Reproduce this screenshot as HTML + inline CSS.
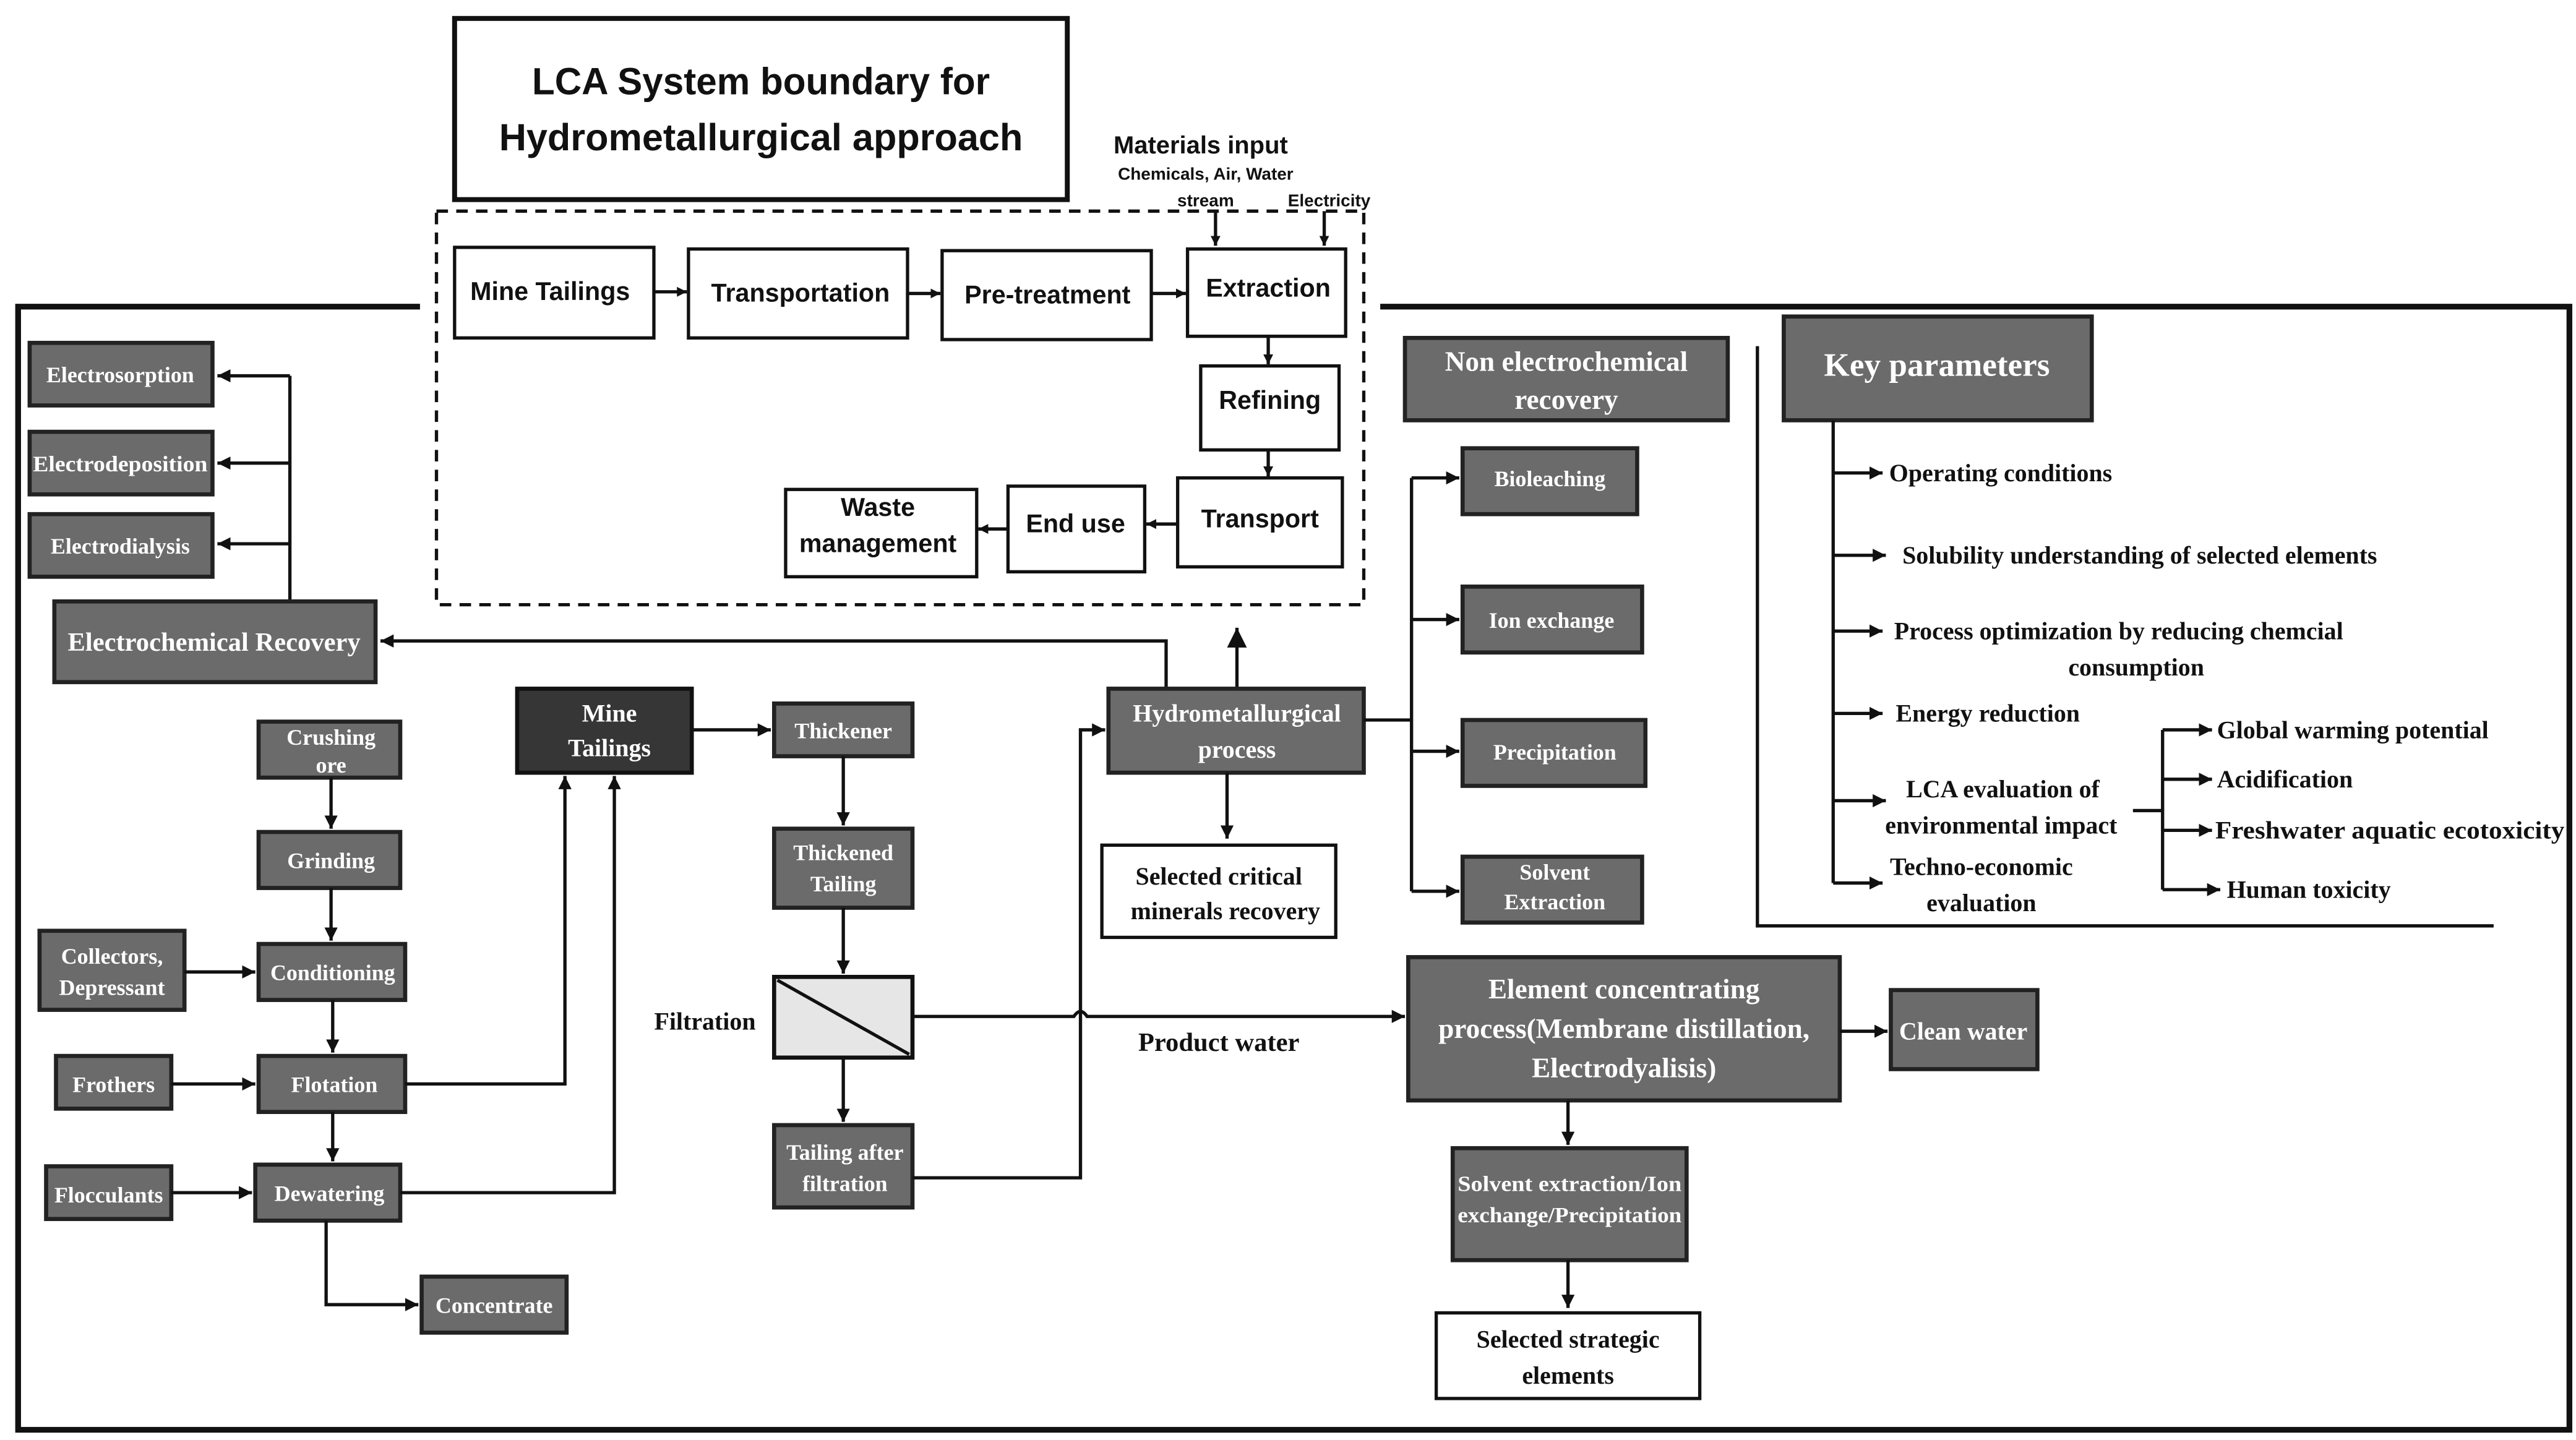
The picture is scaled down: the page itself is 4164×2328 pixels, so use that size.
<!DOCTYPE html>
<html><head><meta charset="utf-8"><style>
html,body{margin:0;padding:0;background:#fff;}
svg{display:block;}
.g{fill:#6b6b6b;stroke:#222;stroke-width:2.5;}
.d{fill:#363636;stroke:#111;stroke-width:2.5;}
.w{fill:#fff;stroke:#111;stroke-width:2;}
.tw{font-family:"Liberation Serif",serif;font-weight:bold;fill:#fff;text-anchor:middle;}
.tb{font-family:"Liberation Serif",serif;font-weight:bold;fill:#111;}
.ts{font-family:"Liberation Sans",sans-serif;font-weight:bold;fill:#111;text-anchor:middle;}
.l{fill:none;stroke:#111;stroke-width:2;}
</style></head><body>
<svg width="4164" height="2328" viewBox="0 0 1564 874" xmlns="http://www.w3.org/2000/svg">
<defs>
<marker id="a" markerUnits="userSpaceOnUse" markerWidth="10" markerHeight="10" refX="8" refY="4" orient="auto"><path d="M0,0 L8,4 L0,8 z" fill="#111"/></marker>
<marker id="s" markerUnits="userSpaceOnUse" markerWidth="8" markerHeight="8" refX="6" refY="3" orient="auto"><path d="M0,0 L6,3 L0,6 z" fill="#111"/></marker>
<marker id="b" markerUnits="userSpaceOnUse" markerWidth="14" markerHeight="16" refX="12" refY="6" orient="auto"><path d="M0,0 L12,6 L0,12 z" fill="#111"/></marker>
</defs>
<rect width="1564" height="874" fill="#fff"/>

<!-- title -->
<rect x="276" y="11" width="372" height="110" fill="#fff" stroke="#111" stroke-width="3"/>
<text x="462" y="57" class="ts" font-size="23" font-weight="normal" textLength="278" lengthAdjust="spacingAndGlyphs">LCA System boundary for</text>
<text x="462" y="91" class="ts" font-size="23" textLength="318" lengthAdjust="spacingAndGlyphs">Hydrometallurgical approach</text>

<text x="729" y="93" class="ts" font-size="15">Materials input</text>
<text x="732" y="109" class="ts" font-size="10.5">Chemicals, Air, Water</text>
<text x="732" y="125" class="ts" font-size="10.5">stream</text>
<text x="807" y="125" class="ts" font-size="10.5">Electricity</text>
<line x1="738" y1="128" x2="738" y2="149" class="l" stroke-width="1.3" marker-end="url(#s)"/>
<line x1="804" y1="128" x2="804" y2="149" class="l" stroke-width="1.3" marker-end="url(#s)"/>

<!-- dashed boundary -->
<rect x="265" y="128" width="563" height="239" fill="none" stroke="#111" stroke-width="2" stroke-dasharray="7,5"/>

<!-- outer frame -->
<path d="M255,186 L11,186 L11,868 L1560,868 L1560,186 L838,186" fill="none" stroke="#111" stroke-width="3.5"/>

<!-- top white boxes -->
<rect x="276" y="150" width="121" height="55" class="w"/><text x="334" y="182" class="ts" font-size="15.5">Mine Tailings</text>
<rect x="418" y="151" width="133" height="54" class="w"/><text x="486" y="183" class="ts" font-size="15.5">Transportation</text>
<rect x="572" y="152" width="127" height="54" class="w"/><text x="636" y="184" class="ts" font-size="15.5">Pre-treatment</text>
<rect x="721" y="151" width="96" height="53" class="w"/><text x="770" y="180" class="ts" font-size="15.5">Extraction</text>
<rect x="729" y="222" width="84" height="51" class="w"/><text x="771" y="248" class="ts" font-size="15.5">Refining</text>
<rect x="715" y="290" width="100" height="54" class="w"/><text x="765" y="320" class="ts" font-size="15.5">Transport</text>
<rect x="612" y="295" width="83" height="52" class="w"/><text x="653" y="323" class="ts" font-size="15.5">End use</text>
<rect x="477" y="297" width="116" height="53" class="w"/><text x="533" y="313" class="ts" font-size="15.5">Waste</text><text x="533" y="335" class="ts" font-size="15.5">management</text>
<line x1="397" y1="177" x2="417" y2="177" class="l" stroke-width="1.5" marker-end="url(#s)"/>
<line x1="551" y1="178" x2="571" y2="178" class="l" stroke-width="1.5" marker-end="url(#s)"/>
<line x1="699" y1="178" x2="720" y2="178" class="l" stroke-width="1.5" marker-end="url(#s)"/>
<line x1="770" y1="204" x2="770" y2="221" class="l" stroke-width="1.5" marker-end="url(#s)"/>
<line x1="770" y1="273" x2="770" y2="289" class="l" stroke-width="1.5" marker-end="url(#s)"/>
<line x1="715" y1="318" x2="696" y2="318" class="l" stroke-width="1.5" marker-end="url(#s)"/>
<line x1="612" y1="321" x2="594" y2="321" class="l" stroke-width="1.5" marker-end="url(#s)"/>

<!-- electrochemical -->
<rect x="18" y="208" width="111" height="38" class="g"/><text x="73" y="232" class="tw" font-size="13.5">Electrosorption</text>
<rect x="18" y="262" width="111" height="38" class="g"/><text x="73" y="286" class="tw" font-size="13.5" textLength="106" lengthAdjust="spacingAndGlyphs">Electrodeposition</text>
<rect x="18" y="312" width="111" height="38" class="g"/><text x="73" y="336" class="tw" font-size="13.5">Electrodialysis</text>
<path d="M176,365 L176,228" class="l"/>
<line x1="176" y1="228" x2="132" y2="228" class="l" marker-end="url(#a)"/>
<line x1="176" y1="281" x2="132" y2="281" class="l" marker-end="url(#a)"/>
<line x1="176" y1="330" x2="132" y2="330" class="l" marker-end="url(#a)"/>
<rect x="33" y="365" width="195" height="49" class="g"/><text x="130" y="395" class="tw" font-size="16">Electrochemical Recovery</text>
<path d="M708,418 L708,389 L231,389" class="l" stroke-width="2.5" marker-end="url(#a)"/>
<line x1="751" y1="418" x2="751" y2="381" class="l" stroke-width="3.5" marker-end="url(#b)"/>

<!-- mine tailings chain -->
<rect x="314" y="418" width="106" height="51" class="d"/><text x="370" y="438" class="tw" font-size="15">Mine</text><text x="370" y="459" class="tw" font-size="15">Tailings</text>
<line x1="420" y1="443" x2="468" y2="443" class="l" stroke-width="2.5" marker-end="url(#a)"/>
<rect x="470" y="427" width="84" height="32" class="g"/><text x="512" y="448" class="tw" font-size="13.5">Thickener</text>
<line x1="512" y1="459" x2="512" y2="501" class="l" marker-end="url(#a)"/>
<rect x="470" y="503" width="84" height="48" class="g"/><text x="512" y="522" class="tw" font-size="13.5">Thickened</text><text x="512" y="541" class="tw" font-size="13.5">Tailing</text>
<line x1="512" y1="551" x2="512" y2="591" class="l" marker-end="url(#a)"/>
<rect x="470" y="593" width="84" height="49" fill="#e6e6e6" stroke="#111" stroke-width="2.5"/>
<line x1="472" y1="595" x2="552" y2="640" class="l" stroke-width="2.5"/>
<text x="428" y="625" class="tb" font-size="15" text-anchor="middle">Filtration</text>
<line x1="512" y1="642" x2="512" y2="681" class="l" marker-end="url(#a)"/>
<rect x="470" y="683" width="84" height="50" class="g"/><text x="513" y="704" class="tw" font-size="13.5">Tailing after</text><text x="513" y="723" class="tw" font-size="13.5">filtration</text>
<path d="M554,715 L656,715 L656,443 L671,443" class="l" marker-end="url(#a)"/>
<path d="M554,617 L652,617 Q656,611 660,617 L853,617" class="l" marker-end="url(#a)"/>
<text x="740" y="638" class="tb" font-size="16" text-anchor="middle">Product water</text>

<!-- hydromet -->
<rect x="673" y="418" width="155" height="51" class="g"/><text x="751" y="438" class="tw" font-size="15">Hydrometallurgical</text><text x="751" y="460" class="tw" font-size="15">process</text>
<line x1="745" y1="469" x2="745" y2="509" class="l" marker-end="url(#a)"/>
<rect x="669" y="513" width="142" height="56" class="w"/><text x="740" y="537" class="tb" font-size="15" text-anchor="middle">Selected critical</text><text x="744" y="558" class="tb" font-size="15" text-anchor="middle">minerals recovery</text>
<path d="M828,437 L857,437" class="l"/>
<path d="M857,290 L857,541" class="l"/>
<line x1="857" y1="290" x2="886" y2="290" class="l" marker-end="url(#a)"/>
<line x1="857" y1="376" x2="886" y2="376" class="l" marker-end="url(#a)"/>
<line x1="857" y1="456" x2="886" y2="456" class="l" marker-end="url(#a)"/>
<line x1="857" y1="541" x2="886" y2="541" class="l" marker-end="url(#a)"/>
<rect x="853" y="205" width="196" height="50" class="g"/><text x="951" y="225" class="tw" font-size="17">Non electrochemical</text><text x="951" y="248" class="tw" font-size="17">recovery</text>
<rect x="888" y="272" width="106" height="40" class="g"/><text x="941" y="295" class="tw" font-size="13.5">Bioleaching</text>
<rect x="888" y="356" width="109" height="40" class="g"/><text x="942" y="381" class="tw" font-size="13.5">Ion exchange</text>
<rect x="888" y="437" width="111" height="40" class="g"/><text x="944" y="461" class="tw" font-size="13.5">Precipitation</text>
<rect x="888" y="520" width="109" height="40" class="g"/><text x="944" y="534" class="tw" font-size="13.5">Solvent</text><text x="944" y="552" class="tw" font-size="13.5">Extraction</text>

<!-- key params -->
<path d="M1067,210 L1067,562 L1514,562" class="l" stroke-width="2.5"/>
<rect x="1083" y="192" width="187" height="63" class="g"/><text x="1176" y="228" class="tw" font-size="20">Key parameters</text>
<path d="M1113,255 L1113,536" class="l"/>
<line x1="1113" y1="287" x2="1143" y2="287" class="l" marker-end="url(#a)"/>
<line x1="1113" y1="337" x2="1145" y2="337" class="l" marker-end="url(#a)"/>
<line x1="1113" y1="383" x2="1143" y2="383" class="l" marker-end="url(#a)"/>
<line x1="1113" y1="433" x2="1143" y2="433" class="l" marker-end="url(#a)"/>
<line x1="1113" y1="486" x2="1145" y2="486" class="l" marker-end="url(#a)"/>
<line x1="1113" y1="536" x2="1143" y2="536" class="l" marker-end="url(#a)"/>
<text x="1147" y="292" class="tb" font-size="15">Operating conditions</text>
<text x="1155" y="342" class="tb" font-size="15">Solubility understanding of selected elements</text>
<text x="1150" y="388" class="tb" font-size="15">Process optimization by reducing chemcial</text>
<text x="1297" y="410" class="tb" font-size="15" text-anchor="middle">consumption</text>
<text x="1151" y="438" class="tb" font-size="15">Energy reduction</text>
<text x="1216" y="484" class="tb" font-size="15" text-anchor="middle">LCA evaluation of</text>
<text x="1215" y="506" class="tb" font-size="15" text-anchor="middle">environmental impact</text>
<text x="1203" y="531" class="tb" font-size="15" text-anchor="middle">Techno-economic</text>
<text x="1203" y="553" class="tb" font-size="15" text-anchor="middle">evaluation</text>
<path d="M1295,492 L1313,492 M1313,443 L1313,540" class="l"/>
<line x1="1313" y1="443" x2="1343" y2="443" class="l" marker-end="url(#a)"/>
<line x1="1313" y1="473" x2="1343" y2="473" class="l" marker-end="url(#a)"/>
<line x1="1313" y1="504" x2="1343" y2="504" class="l" marker-end="url(#a)"/>
<line x1="1313" y1="540" x2="1348" y2="540" class="l" marker-end="url(#a)"/>
<text x="1346" y="448" class="tb" font-size="15">Global warming potential</text>
<text x="1346" y="478" class="tb" font-size="15">Acidification</text>
<text x="1345" y="509" class="tb" font-size="15" textLength="212" lengthAdjust="spacingAndGlyphs">Freshwater aquatic ecotoxicity</text>
<text x="1352" y="545" class="tb" font-size="15">Human toxicity</text>

<!-- element concentrating -->
<rect x="855" y="581" width="262" height="87" class="g"/>
<text x="986" y="606" class="tw" font-size="17">Element concentrating</text>
<text x="986" y="630" class="tw" font-size="17">process(Membrane distillation,</text>
<text x="986" y="654" class="tw" font-size="17">Electrodyalisis)</text>
<line x1="1117" y1="626" x2="1146" y2="626" class="l" stroke-width="2.5" marker-end="url(#a)"/>
<rect x="1148" y="601" width="89" height="48" class="g"/><text x="1192" y="631" class="tw" font-size="15">Clean water</text>
<line x1="952" y1="668" x2="952" y2="695" class="l" marker-end="url(#a)"/>
<rect x="882" y="697" width="142" height="68" class="g"/><text x="953" y="723" class="tw" font-size="13" textLength="136" lengthAdjust="spacingAndGlyphs">Solvent extraction/Ion</text><text x="953" y="742" class="tw" font-size="13" textLength="136" lengthAdjust="spacingAndGlyphs">exchange/Precipitation</text>
<line x1="952" y1="765" x2="952" y2="794" class="l" marker-end="url(#a)"/>
<rect x="872" y="797" width="160" height="52" class="w"/><text x="952" y="818" class="tb" font-size="15" text-anchor="middle">Selected strategic</text><text x="952" y="840" class="tb" font-size="15" text-anchor="middle">elements</text>

<!-- flotation section -->
<rect x="157" y="438" width="86" height="34" class="g"/><text x="201" y="452" class="tw" font-size="13.5">Crushing</text><text x="201" y="469" class="tw" font-size="13.5">ore</text>
<rect x="157" y="505" width="86" height="34" class="g"/><text x="201" y="527" class="tw" font-size="13.5">Grinding</text>
<rect x="157" y="573" width="89" height="34" class="g"/><text x="202" y="595" class="tw" font-size="13.5">Conditioning</text>
<rect x="157" y="641" width="89" height="34" class="g"/><text x="203" y="663" class="tw" font-size="13.5">Flotation</text>
<rect x="155" y="707" width="88" height="34" class="g"/><text x="200" y="729" class="tw" font-size="13.5">Dewatering</text>
<rect x="24" y="565" width="88" height="48" class="g"/><text x="68" y="585" class="tw" font-size="13.5">Collectors,</text><text x="68" y="604" class="tw" font-size="13.5">Depressant</text>
<rect x="34" y="641" width="70" height="32" class="g"/><text x="69" y="663" class="tw" font-size="13.5">Frothers</text>
<rect x="28" y="708" width="76" height="32" class="g"/><text x="66" y="730" class="tw" font-size="13.5">Flocculants</text>
<rect x="256" y="775" width="88" height="34" class="g"/><text x="300" y="797" class="tw" font-size="13.5">Concentrate</text>
<line x1="201" y1="472" x2="201" y2="503" class="l" marker-end="url(#a)"/>
<line x1="201" y1="539" x2="201" y2="571" class="l" marker-end="url(#a)"/>
<line x1="202" y1="607" x2="202" y2="639" class="l" marker-end="url(#a)"/>
<line x1="202" y1="675" x2="202" y2="705" class="l" marker-end="url(#a)"/>
<line x1="112" y1="590" x2="155" y2="590" class="l" marker-end="url(#a)"/>
<line x1="104" y1="658" x2="155" y2="658" class="l" marker-end="url(#a)"/>
<line x1="104" y1="724" x2="153" y2="724" class="l" marker-end="url(#a)"/>
<path d="M246,658 L343,658 L343,471" class="l" marker-end="url(#a)"/>
<path d="M243,724 L373,724 L373,471" class="l" marker-end="url(#a)"/>
<path d="M198,741 L198,792 L254,792" class="l" marker-end="url(#a)"/>
</svg>
</body></html>
